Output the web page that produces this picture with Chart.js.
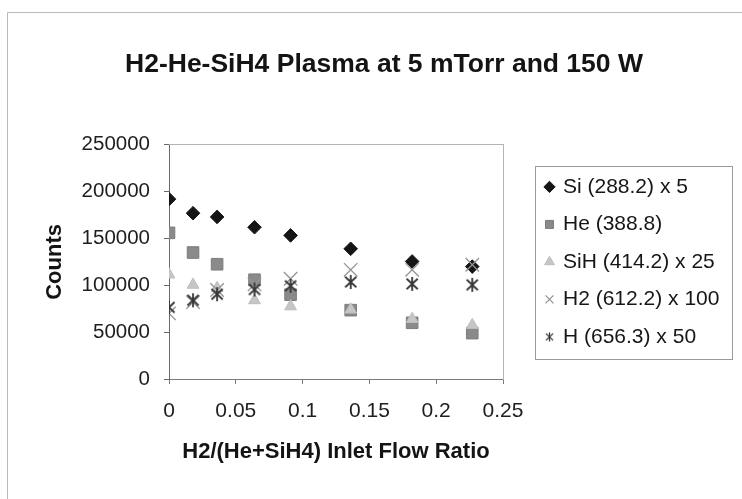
<!DOCTYPE html>
<html>
<head>
<meta charset="utf-8">
<title>H2-He-SiH4 Plasma at 5 mTorr and 150 W</title>
<script src="https://cdn.jsdelivr.net/npm/chart.js@4/dist/chart.umd.min.js"></script>
<style>
  html, body { margin: 0; padding: 0; background: #ffffff; }
  #wrap { width: 742px; height: 499px; }
</style>
</head>
<body>
<div id="wrap"><canvas id="c" width="742" height="499"></canvas></div>
<script>
// H2 / (He + SiH4) inlet flow ratio for each run
const flowRatio = [0, 0.018, 0.036, 0.064, 0.091, 0.136, 0.182, 0.227];

// Optical emission line intensities (counts, scaled as in the legend)
const siCounts  = [192000, 177000, 173000, 162000, 153300, 139000, 125500, 120000];
const heCounts  = [156000, 135000, 122500, 106000, 90000, 73500, 60000, 49000];
const sihCounts = [111500, 100500, 97000, 84000, 77500, 74000, 64000, 57500];
const h2Counts  = [70000, 82000, 95000, 101000, 107000, 116500, 116500, 122000];
const hCounts   = [76500, 84000, 90500, 95500, 99500, 103500, 101500, 100500];

const seriesNames = ['Si (288.2) x 5', 'He (388.8)', 'SiH (414.2) x 25', 'H2 (612.2) x 100', 'H (656.3) x 50'];

const xTickLabels = ['0', '0.05', '0.1', '0.15', '0.2', '0.25'];
const yTickLabels = ['0', '50000', '100000', '150000', '200000', '250000'];

const FONT = '"Liberation Sans", Arial, Helvetica, sans-serif';

// six-armed asterisk marker (an x with a vertical stroke)
function asterisk(size, color, lw) {
  const cv = document.createElement('canvas');
  cv.width = size; cv.height = size;
  const g = cv.getContext('2d');
  const c = size / 2, r = size / 2 - 1;
  g.strokeStyle = color; g.lineWidth = lw; g.lineCap = 'butt';
  g.beginPath();
  g.moveTo(c, c - r); g.lineTo(c, c + r);
  g.moveTo(c - r * 0.8, c - r * 0.75); g.lineTo(c + r * 0.8, c + r * 0.75);
  g.moveTo(c + r * 0.8, c - r * 0.75); g.lineTo(c - r * 0.8, c + r * 0.75);
  g.stroke();
  return cv;
}
const starMark = asterisk(16, '#363636', 1.8);
const starLegend = asterisk(11, '#363636', 1.3);

function pts(ys) { return flowRatio.map((x, i) => ({ x: x, y: ys[i] })); }

// page background and the outer chart frame
const framePlugin = {
  id: 'frame',
  beforeDraw(chart) {
    const ctx = chart.ctx;
    ctx.save();
    ctx.fillStyle = '#ffffff';
    ctx.fillRect(0, 0, chart.width, chart.height);
    ctx.strokeStyle = '#b9b9b9';
    ctx.lineWidth = 1;
    ctx.beginPath();
    ctx.moveTo(7.5, chart.height);
    ctx.lineTo(7.5, 12.5);
    ctx.lineTo(chart.width, 12.5);
    ctx.stroke();
    ctx.restore();
  }
};

// fixed legend width and a border round the legend entries
const LEGEND_W = 203;
const legendBoxPlugin = {
  id: 'legendBox',
  afterInit(chart) {
    const lg = chart.legend;
    if (lg && !lg._fixedWidth) {
      const fit = lg.fit;
      lg.fit = function () { fit.call(this); this.width = LEGEND_W; };
      lg._fixedWidth = true;
    }
  },
  afterDraw(chart) {
    const lg = chart.legend;
    if (!lg || !lg.legendHitBoxes || !lg.legendHitBoxes.length) return;
    const hb = lg.legendHitBoxes;
    const top = Math.round(hb[0].top - 10.5) + 0.5;
    const last = hb[hb.length - 1];
    const bottom = Math.round(last.top + last.height + 12) + 0.5;
    const left = Math.round(lg.left + 5) + 0.5;
    const right = Math.round(lg.right) - 0.5;
    const ctx = chart.ctx;
    ctx.save();
    ctx.strokeStyle = '#9a9a9a';
    ctx.lineWidth = 1;
    ctx.strokeRect(left, top, right - left, bottom - top);
    ctx.restore();
  }
};

new Chart(document.getElementById('c'), {
  type: 'scatter',
  data: {
    datasets: [
      { label: seriesNames[0], data: pts(siCounts), pointStyle: 'rectRot', pointRadius: 6.8,
        backgroundColor: '#151515', borderColor: '#151515', borderWidth: 1, order: 4,
        xAxisID: 'x', yAxisID: 'y' },
      { label: seriesNames[1], data: pts(heCounts), pointStyle: 'rect', pointRadius: 8.2,
        backgroundColor: '#8a8a8a', borderColor: '#7c7c7c', borderWidth: 1, order: 3,
        xAxisID: 'x', yAxisID: 'y' },
      { label: seriesNames[2], data: pts(sihCounts), pointStyle: 'triangle', pointRadius: 6.8,
        backgroundColor: '#c6c6c6', borderColor: '#bdbdbd', borderWidth: 1, order: 2,
        xAxisID: 'x', yAxisID: 'y' },
      { label: seriesNames[3], data: pts(h2Counts), pointStyle: 'crossRot', pointRadius: 9.5,
        backgroundColor: '#939393', borderColor: '#939393', borderWidth: 1.3, order: 1,
        xAxisID: 'x', yAxisID: 'y' },
      { label: seriesNames[4], data: pts(hCounts), pointStyle: starMark, pointRadius: 7,
        backgroundColor: '#363636', borderColor: '#363636', borderWidth: 1.5, order: 0,
        xAxisID: 'x', yAxisID: 'y' }
    ]
  },
  options: {
    responsive: false,
    animation: false,
    devicePixelRatio: 1,
    events: [],
    layout: { padding: { left: 35, right: 9, top: 0, bottom: 0 } },
    plugins: {
      tooltip: { enabled: false },
      title: {
        display: true,
        text: 'H2-He-SiH4 Plasma at 5 mTorr and 150 W',
        color: '#141414',
        font: { family: FONT, size: 26.5, weight: 'bold' },
        padding: { top: 49, bottom: 64 }
      },
      legend: {
        display: true,
        position: 'right',
        align: 'center',
        fullSize: false,
        labels: {
          usePointStyle: true,
          boxWidth: 6,
          boxHeight: 8,
          padding: 16.5,
          color: '#161616',
          font: { family: FONT, size: 21 },
          sort: (a, b) => a.datasetIndex - b.datasetIndex,
          generateLabels(chart) {
            const items = Chart.defaults.plugins.legend.labels.generateLabels(chart);
            items.forEach(it => { if (it.datasetIndex === 4) it.pointStyle = starLegend; });
            return items;
          }
        }
      }
    },
    scales: {
      x: {
        type: 'linear',
        position: 'bottom',
        min: 0, max: 0.25,
        afterFit(s) { s.height = 120; },
        border: { display: true, color: '#7a7a7a', width: 1 },
        grid: { display: true, drawOnChartArea: false, drawTicks: true, tickLength: 5, color: '#7a7a7a' },
        ticks: {
          stepSize: 0.05,
          padding: 15,
          color: '#1e1e1e',
          font: { family: FONT, size: 21 },
          callback: (v, i) => xTickLabels[i]
        },
        title: {
          display: true,
          text: 'H2/(He+SiH4) Inlet Flow Ratio',
          color: '#141414',
          font: { family: FONT, size: 22, weight: 'bold' },
          padding: { top: 0, bottom: 34 }
        }
      },
      y: {
        type: 'linear',
        position: 'left',
        min: 0, max: 250000,
        afterFit(s) { s.width = 134; },
        border: { display: true, color: '#6a6a6a', width: 1 },
        grid: { display: true, drawOnChartArea: false, drawTicks: true, tickLength: 5, color: '#6a6a6a' },
        ticks: {
          stepSize: 50000,
          padding: 14,
          color: '#1e1e1e',
          font: { family: FONT, size: 20.5 },
          callback: (v, i) => yTickLabels[i]
        },
        title: {
          display: true,
          text: 'Counts',
          color: '#141414',
          font: { family: FONT, size: 22, weight: 'bold' },
          padding: { top: 7, bottom: 0 }
        }
      },
      x2: {
        type: 'linear',
        position: 'top',
        min: 0, max: 0.25,
        border: { display: true, color: '#b4b4b4', width: 1 },
        grid: { display: false, drawTicks: false },
        ticks: { display: false }
      },
      y2: {
        type: 'linear',
        position: 'right',
        min: 0, max: 250000,
        afterFit(s) { s.width = 27; },
        border: { display: true, color: '#b4b4b4', width: 1 },
        grid: { display: false, drawTicks: false },
        ticks: { display: false }
      }
    }
  },
  plugins: [framePlugin, legendBoxPlugin]
});
</script>
</body>
</html>
